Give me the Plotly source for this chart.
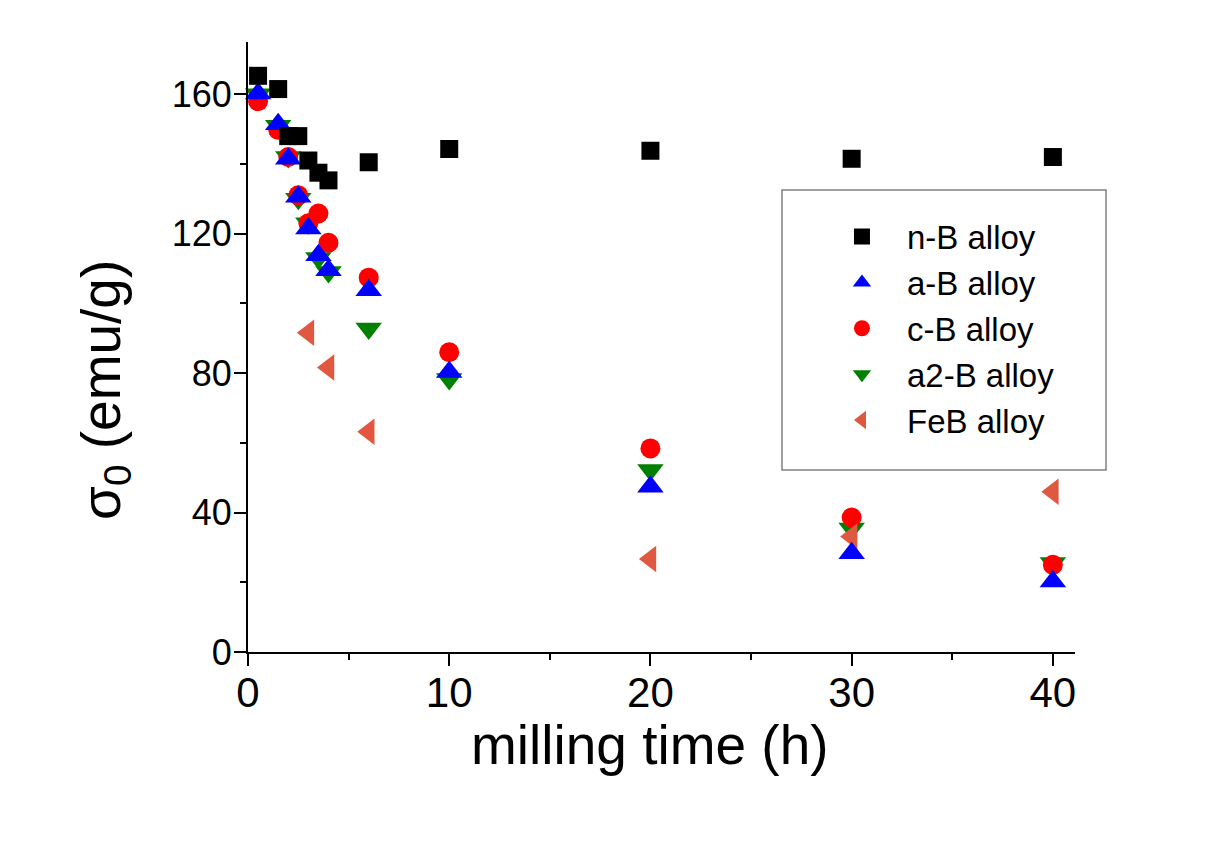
import plotly.graph_objects as go

# milling time (h)
time_all = [0.5, 1.5, 2, 2.5, 3, 3.5, 4, 6, 10, 20, 30, 40]
time_feb = [3, 4, 6, 20, 30, 40]

# sigma_0 (emu/g)
nB = [165.3, 161.5, 148, 148, 141, 137.5, 135.3, 140.5, 144.3, 143.8, 141.5, 142]
aB = [160.2, 151.4, 141.5, 130.6, 121.5, 113.8, 109.5, 103.8, 80.3, 47.4, 28.3, 20.2]
cB = [158, 149.8, 142, 131, 123, 125.8, 117.4, 107.4, 86, 58.4, 38.6, 25]
a2B = [160, 151, 142, 130, 123, 113, 109, 92.8, 78.3, 52.2, 35.4, 25.5]
FeB = [91.6, 81.6, 63.2, 26.7, 33.1, 46]

x_ticks = [0, 10, 20, 30, 40]
y_ticks = [0, 40, 80, 120, 160]

FONT = "Arial, Liberation Sans, sans-serif"

fig = go.Figure()

# drawing order (bottom to top); legend order set by legendrank
series = [
    ("a2-B alloy", time_all, a2B, "triangle-down", "#008000", 23, 4),
    ("c-B alloy", time_all, cB, "circle", "#FF0000", 20, 3),
    ("FeB alloy", time_feb, FeB, "triangle-left", "#E0583F", 23, 5),
    ("a-B alloy", time_all, aB, "triangle-up", "#0000FF", 23, 2),
    ("n-B alloy", time_all, nB, "square", "#000000", 18, 1),
]
for name, xs, ys, sym, col, sz, rank in series:
    fig.add_trace(go.Scatter(
        x=xs, y=ys, mode="markers", name=name, legendrank=rank,
        marker=dict(symbol=sym, color=col, size=sz, line=dict(width=0)),
        cliponaxis=False,
    ))

axis_common = dict(
    showline=True, linecolor="black", linewidth=2, mirror=False,
    ticks="outside", ticklen=12, tickwidth=2, tickcolor="black",
    showgrid=False, zeroline=False,
)

fig.update_xaxes(
    **axis_common, range=[0, 41.1], tickvals=x_ticks,
    minor=dict(ticks="outside", ticklen=6, tickwidth=2, tickcolor="black", dtick=5, tick0=0),
    tickfont=dict(size=42, family=FONT, color="black"),
    ticklabelstandoff=-9,
)
fig.update_yaxes(
    **axis_common, range=[0, 175], tickvals=y_ticks,
    minor=dict(ticks="outside", ticklen=6, tickwidth=2, tickcolor="black", dtick=20, tick0=0),
    tickfont=dict(size=36, family=FONT, color="black"),
    ticklabelstandoff=-5,
)

fig.update_layout(
    width=1209, height=845,
    margin=dict(l=240, r=142, t=34, b=201),
    paper_bgcolor="white", plot_bgcolor="white",
    showlegend=True,
    legend=dict(
        x=0.688, y=0.727, xanchor="left", yanchor="top",
        font=dict(size=33, family=FONT, color="black"),
        bgcolor="rgba(0,0,0,0)", borderwidth=0,
        itemwidth=80, tracegroupgap=0,
    ),
    shapes=[dict(
        type="rect", xref="paper", yref="paper",
        x0=0.6457, x1=1.0375, y0=0.2984, y1=0.7574,
        line=dict(color="#808080", width=1.5), fillcolor="rgba(0,0,0,0)", layer="below",
    )],
    annotations=[
        dict(text="milling time (h)", xref="paper", yref="paper",
             x=0.486, y=-0.1525, xanchor="center", yanchor="middle", showarrow=False,
             font=dict(size=55, family=FONT, color="black")),
        dict(text="σ<sub>0</sub> (emu/g)", xref="paper", yref="paper",
             x=-0.173, y=0.4295, xanchor="center", yanchor="middle", showarrow=False,
             textangle=-90, font=dict(size=55, family=FONT, color="black")),
    ],
)

fig.write_html("out.html")
